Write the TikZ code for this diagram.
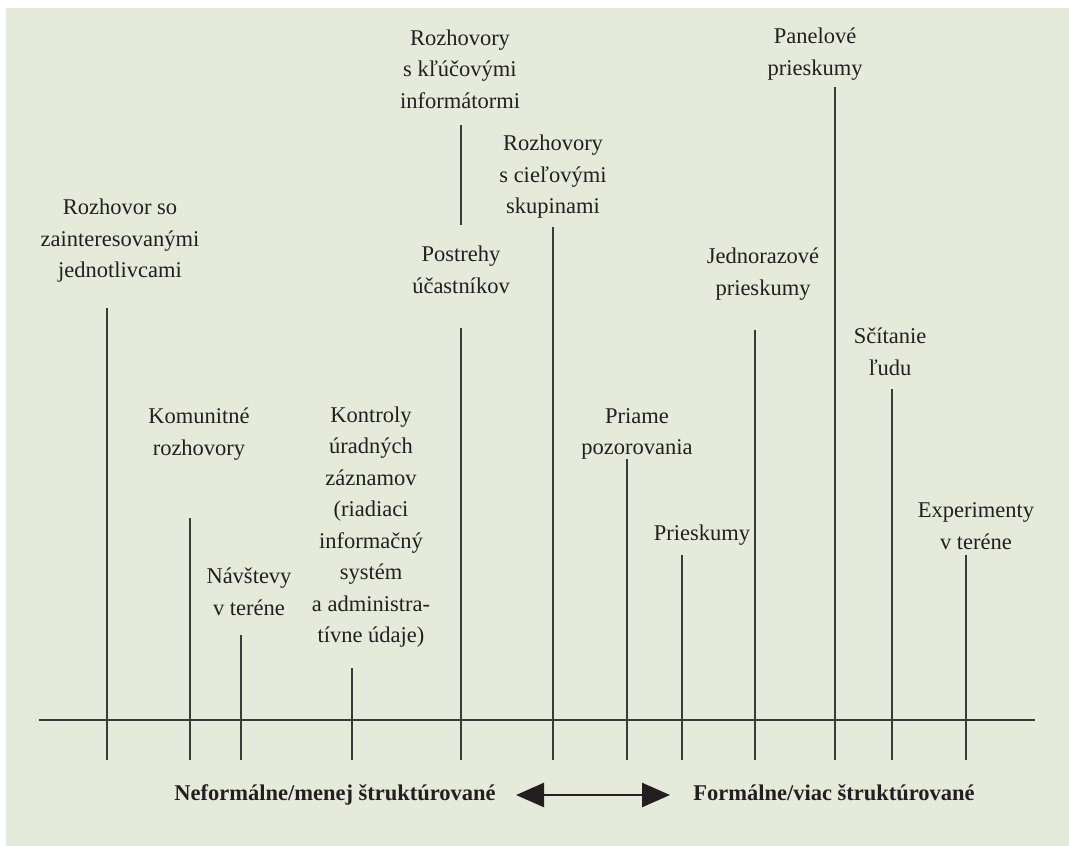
\documentclass[tikz,border=0pt]{standalone}
\usepackage{fontspec}
\setmainfont{Liberation Serif}
\usetikzlibrary{arrows.meta}
\definecolor{panel}{RGB}{230,234,218}
\definecolor{ink}{RGB}{35,31,32}
\definecolor{rule}{RGB}{58,58,56}
\tikzset{
  lbl/.style={font=\fontsize{22.5}{31.5}\selectfont, align=center, inner sep=0pt, text=ink},
  endlbl/.style={font=\fontsize{22.5}{31.5}\selectfont\bfseries, inner sep=0pt, text=ink, anchor=base},
  stem/.style={draw=rule, line width=1.3pt},
}
\begin{document}
\begin{tikzpicture}[x=1pt, y=-1pt]
\useasboundingbox (0,0) rectangle (1069,846);
\fill[panel] (6,8) rectangle (1069,846);

% labels above the scale
\node[lbl] (zaint) at (120,241) {Rozhovor so\\zainteresovanými\\jednotlivcami};
\node[lbl] (komun) at (199,434) {Komunitné\\rozhovory};
\node[lbl] (navst) at (249,592) {Návštevy\\v teréne};
\node[lbl] (kontr) at (371,527) {Kontroly\\úradných\\záznamov\\(riadiaci\\informačný\\systém\\a administra-\\tívne údaje)};
\node[lbl] (kluc) at (460,69) {Rozhovory\\s kľúčovými\\informátormi};
\node[lbl] (postr) at (461,270) {Postrehy\\účastníkov};
\node[lbl] (cielo) at (553,177) {Rozhovory\\s cieľovými\\skupinami};
\node[lbl] (priam) at (637,434) {Priame\\pozorovania};
\node[lbl] (priesk) at (702,535) {Prieskumy};
\node[lbl] (jedno) at (763,274) {Jednorazové\\prieskumy};
\node[lbl] (panel) at (815,54) {Panelové\\prieskumy};
\node[lbl] (scit) at (890,352) {Sčítanie\\ľudu};
\node[lbl] (exper) at (976,526) {Experimenty\\v teréne};

% the scale
\coordinate (axL) at (39,720);
\coordinate (axR) at (1035,720);
\draw[stem] (axL) -- (axR);

% stems from each label down through the scale
\foreach \name/\x/\top in {s1/107/308, s2/190/518, s3/241/635, s4/352/668,
  s5/461/328, s6/553/227, s7/627/459, s8/682/555, s9/755/330,
  s10/835/87, s11/892/389, s12/966/555} {
  \coordinate (\name t) at (\x,\top);
  \coordinate (\name b) at (\x,760);
  \draw[stem] (\name t) -- (\name b);
}
\coordinate (klt) at (461,125);
\coordinate (klb) at (461,225);
\draw[stem] (klt) -- (klb);

% end labels and the double arrow
\node[endlbl] (neform) at (335,800) {Neformálne/menej štruktúrované};
\node[endlbl] (form) at (834,800) {Formálne/viac štruktúrované};
\coordinate (arL) at (516,795);
\coordinate (arR) at (670,795);
\draw[draw=ink, line width=2.6pt, {Triangle[length=28pt,width=24pt]}-{Triangle[length=28pt,width=24pt]}] (arL) -- (arR);
\end{tikzpicture}
\end{document}
